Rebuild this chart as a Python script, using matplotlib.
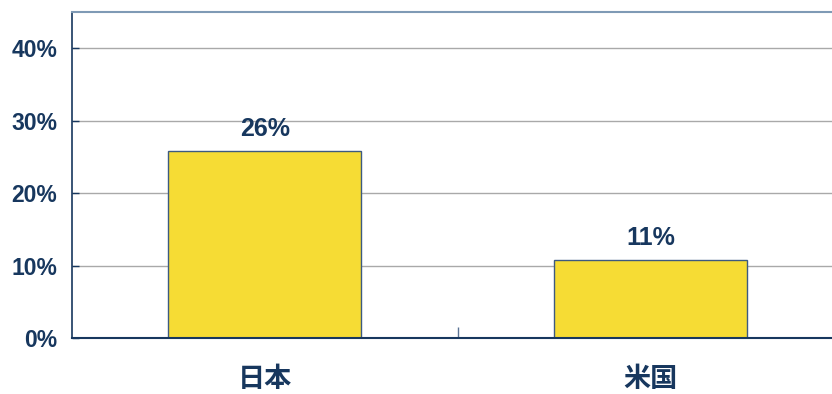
import matplotlib
matplotlib.use("Agg")
import matplotlib.pyplot as plt

plt.rcParams['font.family'] = ['Liberation Sans', 'Noto Sans CJK JP', 'DejaVu Sans']

countries = ["日本", "米国"]
shares = [25.8, 10.7]
yticks = [0, 10, 20, 30, 40]

navy = "#17375e"
bar_yellow = "#f6dc34"

fig = plt.figure(figsize=(8.32, 3.94), dpi=100)
ax = fig.add_axes([72 / 832, 1 - 338 / 394, 1 - 72 / 832 + 0.002, (338 - 12) / 394])

x = list(range(len(countries)))
ax.bar(x, shares, width=0.5, color=bar_yellow, edgecolor="#3d5a80", linewidth=1.0, zorder=3)

for xi, v in zip(x, shares):
    ax.text(xi, v + 1.4, f"{v:.0f}%", ha="center", va="bottom",
            fontsize=18, fontweight="bold", color=navy)

ax.set_xlim(-0.5, 1.474)
ax.set_ylim(0, 45)

ax.set_yticks(yticks)
ax.set_yticklabels([f"{t}%" for t in yticks], fontsize=16.5, fontweight="bold", color=navy)
ax.tick_params(axis="y", direction="in", length=5, width=1, color=navy, pad=10.5)

ax.set_xticks([0.5])
ax.set_xticklabels([""])
ax.tick_params(axis="x", direction="in", length=8, width=1, color="#5a7395")

for xi, name in zip(x, countries):
    ax.text(xi, -0.125, name, transform=ax.get_xaxis_transform(), ha="center", va="center",
            fontsize=19.5, fontweight="bold", color=navy,
            family=['Noto Sans CJK JP', 'DejaVu Sans'])

ax.grid(axis="y", color="#a9a9a9", linewidth=1, zorder=0)
ax.set_axisbelow(True)

ax.spines["left"].set_color(navy)
ax.spines["left"].set_linewidth(1.2)
ax.spines["bottom"].set_color(navy)
ax.spines["bottom"].set_linewidth(1.5)
ax.spines["bottom"].set_zorder(4)
ax.spines["top"].set_color("#7f9ab5")
ax.spines["top"].set_linewidth(1.5)
ax.spines["right"].set_visible(False)

fig.savefig("out.png", dpi=100)
